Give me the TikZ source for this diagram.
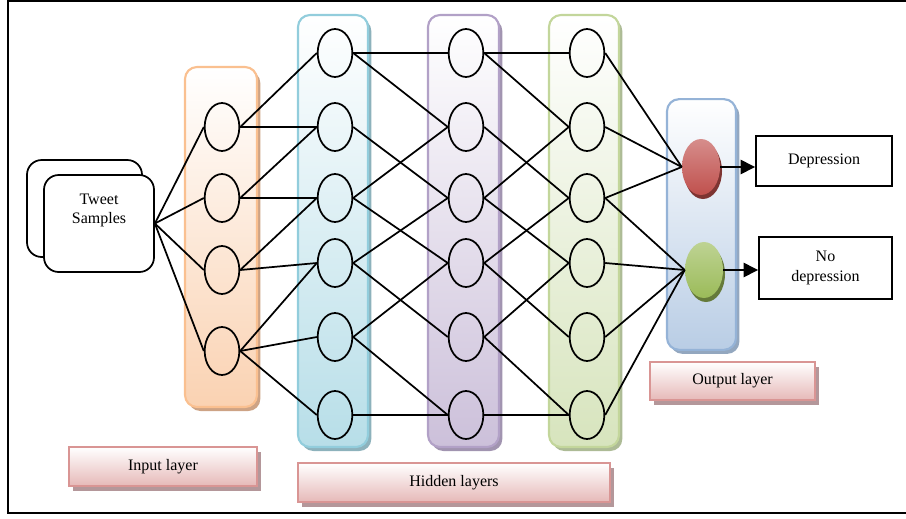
\documentclass[tikz,border=0pt]{standalone}
\usepackage{fontspec}
\setmainfont{Liberation Serif}
\usepackage{tikz}
\usetikzlibrary{shapes.geometric, arrows.meta, shadows}
\definecolor{inLine}{HTML}{FAC090}
\definecolor{inFill}{HTML}{FAD2B2}
\definecolor{inShade}{HTML}{CDA385}
\definecolor{hALine}{HTML}{92CDDC}
\definecolor{hAFill}{HTML}{B7DEE8}
\definecolor{hAShade}{HTML}{8DB2BC}
\definecolor{hBLine}{HTML}{B2A1C7}
\definecolor{hBFill}{HTML}{CCC0DA}
\definecolor{hBShade}{HTML}{A194B0}
\definecolor{hCLine}{HTML}{C3D69B}
\definecolor{hCFill}{HTML}{D7E4BD}
\definecolor{hCShade}{HTML}{ADBB96}
\definecolor{outLine}{HTML}{95B3D7}
\definecolor{outFill}{HTML}{B9CDE5}
\definecolor{outShade}{HTML}{93A7BF}
\definecolor{tagLine}{HTML}{D99594}
\definecolor{tagFill}{HTML}{E6B9B8}
\definecolor{tagShade}{HTML}{B4979A}
\definecolor{depRed}{HTML}{C0504D}
\definecolor{noGreen}{HTML}{9BBB59}
\tikzstyle{link}=[line width=1.3pt, black]
\tikzstyle{arrow}=[-{Triangle[length=11pt,width=10.5pt]}, line width=2.2pt, black]

\begin{document}
\begin{tikzpicture}[x=0.75pt, y=-0.75pt, font=\fontsize{12}{14.5}\selectfont,
  column/.style n args={3}{rectangle, rounded corners=9pt, draw=#1, line width=1.6pt,
                top color=white, bottom color=#2,
                drop shadow={shadow xshift=2.5pt, shadow yshift=-3pt, fill=#3, opacity=1}},
  neuron/.style={ellipse, draw=black, line width=1.3pt, inner sep=0pt,
                minimum width=26pt, minimum height=36pt},
  outnode/.style={ellipse, inner sep=0pt, minimum width=28.5pt, minimum height=42pt,
                top color=#1!65, middle color=#1!90, bottom color=#1,
                drop shadow={shadow xshift=1.5pt, shadow yshift=-3pt, fill=#1!65!black, opacity=1}},
  sample/.style={rectangle, rounded corners=11pt, draw=black, line width=1.3pt,
                fill=white, minimum height=72.75pt},
  tag/.style={rectangle, draw=tagLine, line width=1.6pt, top color=white,
                bottom color=tagFill, minimum height=29pt,
                drop shadow={shadow xshift=3pt, shadow yshift=-3.5pt, fill=tagShade, opacity=1}},
  result/.style={rectangle, draw=black, line width=1.2pt, align=center}
]
\useasboundingbox (0,0) rectangle (906,518);
\draw[line width=1.3pt] (906,1) -- (8,1) -- (8,513) -- (906,513);

\node[column={inLine}{inFill}{inShade}, minimum width=54pt, minimum height=255pt] (colIn) at (221,237) {};
\node[column={hALine}{hAFill}{hAShade}, minimum width=52.5pt, minimum height=324pt] (colA) at (333,231) {};
\node[column={hBLine}{hBFill}{hBShade}, minimum width=53.25pt, minimum height=324pt] (colB) at (463.5,231) {};
\node[column={hCLine}{hCFill}{hCShade}, minimum width=52.5pt, minimum height=324pt] (colC) at (584,231) {};
\node[column={outLine}{outFill}{outShade}, minimum width=51.75pt, minimum height=188pt] (colOut) at (701.5,224.5) {};

\node[tag, minimum width=141pt] (tagIn) at (163,466.5) {Input layer};
\node[tag, minimum width=234pt] (tagHid) at (454,482.5) {Hidden layers};
\node[tag, minimum width=123.75pt, minimum height=28.5pt] (tagOut) at (732.5,381) {Output layer};

\node[sample, minimum width=86.25pt] (back) at (84.5,208.5) {};
\node[sample, minimum width=82.5pt,
      label={[anchor=north, align=center, yshift=-11.5pt]north:Tweet\\Samples}] (tweet) at (99,223.5) {};

\foreach \y [count=\i] in {127,198,270,351}
  \node[neuron] (in\i) at (222,\y) {};
\foreach \y [count=\i] in {53,127,198,263,337,415} {
  \node[neuron] (hA\i) at (335,\y) {};
  \node[neuron] (hB\i) at (466,\y) {};
  \node[neuron] (hC\i) at (587,\y) {};
}
\node[outnode=depRed] (yes) at (701,167) {};
\node[outnode=noGreen] (no) at (704,270) {};
\node[result, minimum width=102pt, minimum height=37.5pt] (dep) at (824,161) {Depression};
\node[result, minimum width=99.75pt, minimum height=46.5pt] (nodep) at (825.5,268) {No\\depression};

\foreach \i in {1,...,4}
  \draw[link] (tweet.east) -- (in\i.west);
\foreach \a/\b in {1/1,1/2,2/2,2/3,3/3,3/4,4/4,4/5,4/6}
  \draw[link] (in\a.east) -- (hA\b.west);
\foreach \a/\b in {1/1,1/2,2/3,3/2,3/4,4/3,4/5,5/4,5/6,6/6} {
  \draw[link] (hA\a.east) -- (hB\b.west);
  \draw[link] (hB\a.east) -- (hC\b.west);
}
\foreach \a/\b in {1/yes,2/yes,3/yes,3/no,4/no,5/no,6/no}
  \draw[link] (hC\a.east) -- (\b.west);

\draw[arrow] (yes.east) -- (yes.east -| dep.west);
\draw[arrow] (no.east) -- (no.east -| nodep.west);
\end{tikzpicture}
\end{document}
